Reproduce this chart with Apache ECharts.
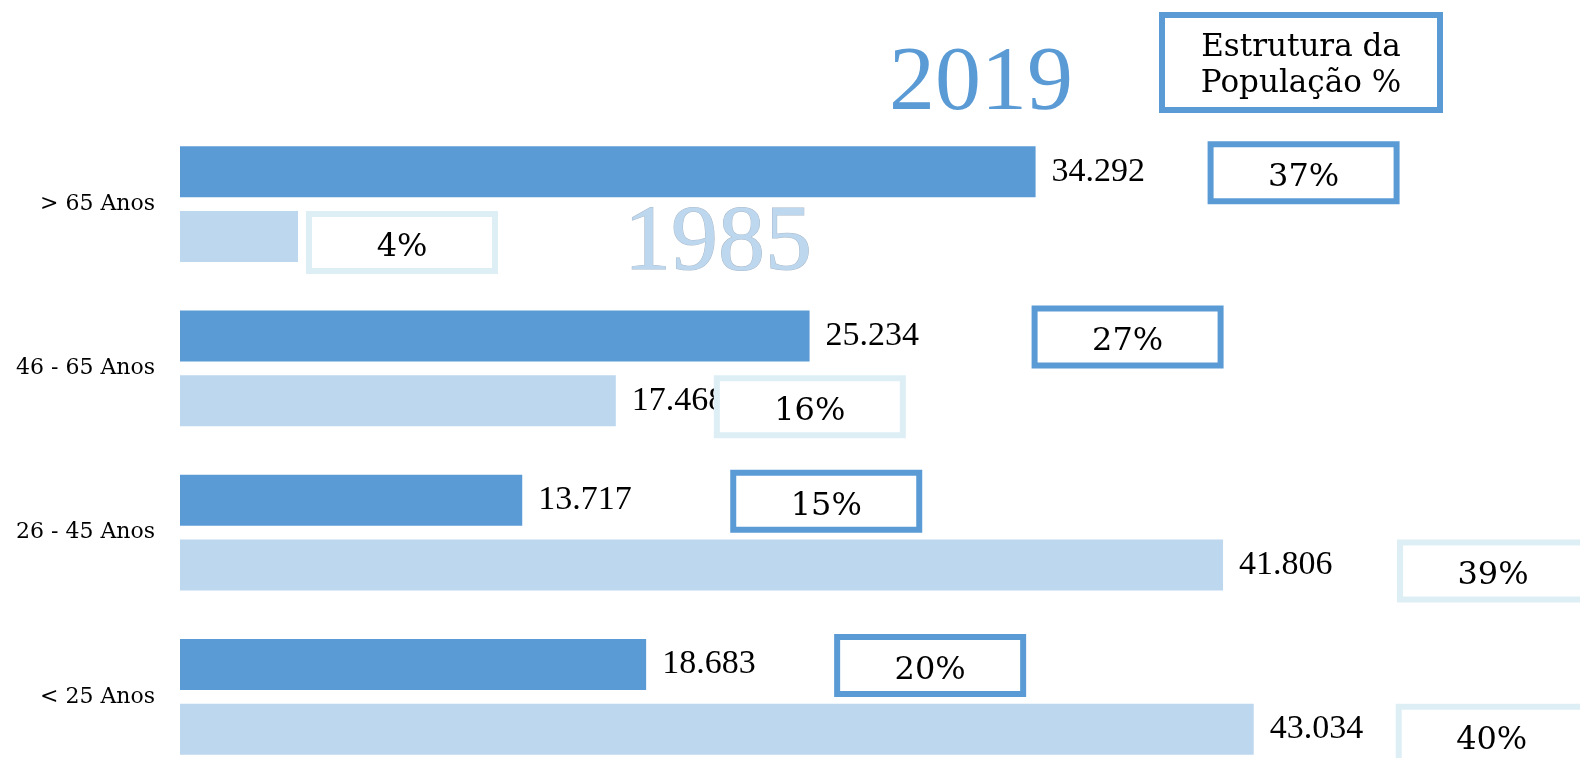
<!DOCTYPE html>
<html>
<head>
<meta charset="utf-8">
<script src="https://cdn.jsdelivr.net/npm/echarts@6/dist/echarts.min.js"></script>
<style>
  html, body { margin: 0; padding: 0; background: #fff; }
  #chart { width: 1580px; height: 758px; }
</style>
</head>
<body>
<div id="chart"></div>
<script>
const colors = ["#5b9bd5", "#bdd7ee"];
const categories = ["> 65 Anos", "46 - 65 Anos", "26 - 45 Anos", "< 25 Anos"];
const pop2019 = [34292, 25234, 13717, 18683];
const pop1985 = [4730, 17468, 41806, 43034];
const pct2019 = [37, 27, 15, 20];
const pct1985 = [4, 16, 39, 40];
// the % boxes were placed by hand in the original, gap (px) from bar end
const boxGap2019 = [175, 225, 211, 191];
const boxGap1985 = [11, 101, 177, 145];

const BOX_W = 186;
const BOX_H = 57;

const fmt = (v) => String(v).replace(/\B(?=(\d{3})+(?!\d))/g, ".");

// one empty label for the frame, one for the text (sits a bit low, as in the original)
const boxes = (vals, pcts, gaps, dy, border) => {
  const frames = pcts.map((p, i) => ({
    coord: [vals[i], categories[i]],
    value: p,
    label: {
      offset: [gaps[i] + BOX_W / 2, dy],
      formatter: " ",
      width: BOX_W - 6,
      height: BOX_H - 6,
      padding: 0,
      backgroundColor: "#fff",
      borderColor: border,
      borderWidth: 6,
    },
  }));
  const texts = pcts.map((p, i) => ({
    coord: [vals[i], categories[i]],
    value: p,
    label: { offset: [gaps[i] + BOX_W / 2, dy + 5] },
  }));
  return frames.concat(texts);
};

const myChart = echarts.init(document.getElementById("chart"));

const valueLabel = {
  show: true,
  position: "right",
  distance: 16,
  color: "#000",
  fontFamily: "Liberation Serif",
  fontSize: 34,
  formatter: (p) => fmt(p.value),
};

const pctLabel = {
  show: true,
  position: "inside",
  color: "#000",
  fontFamily: "DejaVu Serif",
  fontSize: 32,
  formatter: (p) => p.value + "%",
};

const option = {
  animation: false,
  grid: { left: 180, right: 152.5, top: 122, height: 657, outerBoundsMode: "none" },
  xAxis: { type: "value", min: 0, max: 50000, show: false },
  yAxis: {
    type: "category",
    inverse: true,
    data: categories,
    axisLine: { show: false },
    axisTick: { show: false },
    axisLabel: {
      margin: 25,
      color: "#000",
      fontFamily: "DejaVu Serif",
      fontSize: 22,
    },
  },
  graphic: [
    {
      type: "text",
      x: 981,
      y: 85,
      style: {
        text: "2019",
        font: "92px 'Liberation Serif'",
        fill: colors[0],
        align: "center",
        verticalAlign: "middle",
        shadowColor: "rgba(0,0,0,0.25)",
        shadowBlur: 3,
        shadowOffsetX: 1,
        shadowOffsetY: 2,
      },
    },
    {
      type: "text",
      x: 718,
      y: 244,
      style: {
        text: "1985",
        font: "94px 'Liberation Serif'",
        fill: colors[1],
        stroke: "#a9b9c9",
        lineWidth: 1,
        align: "center",
        verticalAlign: "middle",
      },
    },
    {
      type: "rect",
      shape: { x: 1162, y: 15, width: 278, height: 95 },
      style: { fill: "#fff", stroke: colors[0], lineWidth: 6 },
    },
    {
      type: "text",
      x: 1301,
      y: 66,
      style: {
        text: "Estrutura da\nPopulação %",
        font: "31px 'DejaVu Serif'",
        lineHeight: 36,
        fill: "#000",
        align: "center",
        verticalAlign: "middle",
      },
    },
  ],
  series: [
    {
      name: "2019",
      type: "bar",
      data: pop2019,
      barWidth: 51,
      barGap: "27%",
      itemStyle: { color: colors[0] },
      label: valueLabel,
      markPoint: {
        z: 10,
        symbol: "rect",
        symbolSize: 1,
        itemStyle: { color: "rgba(0,0,0,0)" },
        label: pctLabel,
        data: boxes(pop2019, pct2019, boxGap2019, 1, colors[0]),
      },
    },
    {
      name: "1985",
      type: "bar",
      data: pop1985,
      barWidth: 51,
      itemStyle: { color: colors[1] },
      label: valueLabel,
      markPoint: {
        z: 10,
        symbol: "rect",
        symbolSize: 1,
        itemStyle: { color: "rgba(0,0,0,0)" },
        label: pctLabel,
        data: boxes(pop1985, pct1985, boxGap1985, 6, "#ddeef5"),
      },
    },
  ],
};

myChart.setOption(option);
</script>
</body>
</html>
